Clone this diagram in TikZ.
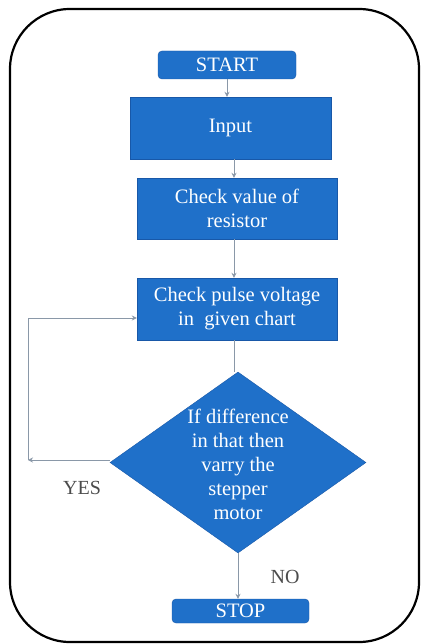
\documentclass[tikz,border=0pt]{standalone}
\usepackage{fontspec}
\setmainfont{Liberation Serif}
\usepackage{tikz}
\usetikzlibrary{calc}
\usetikzlibrary{positioning}
\usetikzlibrary{arrows.meta}
\usetikzlibrary{shapes.geometric}
\usepackage{xcolor}
\definecolor{boxblue}{RGB}{31,112,201}
\definecolor{edgeblue}{RGB}{24,88,168}
\definecolor{linegray}{RGB}{138,152,168}

\begin{document}
\begin{tikzpicture}[x=1pt, y=-1pt,
    stepbox/.style={draw=edgeblue, fill=boxblue, text=white, align=center, inner sep=0pt,
      font=\fontsize{20.5}{24}\selectfont},
    decision/.style={diamond, draw=edgeblue, fill=boxblue, inner sep=0pt, aspect=1.41},
    conn/.style={draw=linegray, line width=0.9pt, -{Stealth[length=5pt,width=5pt]}},
    lbl/.style={text=black!70, font=\fontsize{20}{24}\selectfont}]
  \useasboundingbox (0,0) rectangle (420,644);
  \draw[line width=2.2pt, rounded corners=60pt] (10,9) rectangle (419,642);
  \node[stepbox, rounded corners=4pt, minimum width=138pt, minimum height=28pt] (start) at (227,65) {START};
  \node[stepbox, minimum width=201pt, minimum height=62pt] (input) at (230.5,128) {Input};
  \node[stepbox, minimum width=200pt, minimum height=61pt] (resist) at (237,208.5) {Check value of\\resistor};
  \node[stepbox, minimum width=200pt, minimum height=62pt] (pulse) at (237,309) {Check pulse voltage\\in~ given chart};
  \node[decision, minimum width=256pt, minimum height=181pt] (diff) at (238,462.5) {};
  \node[stepbox, draw=none, fill=none] (difftext) at (238,464) {If difference\\in that then\\varry the\\stepper\\motor};
  \node[stepbox, rounded corners=4pt, minimum width=137pt, minimum height=24pt] (stop) at (240.5,611) {STOP};
  \coordinate (back) at (28,460);
  % flow
  \draw[conn] (start.south) -- (start.south |- input.north);
  \draw[conn] ([xshift=-3pt]resist.north |- input.south) -- ([xshift=-3pt]resist.north);
  \draw[conn] ([xshift=-3pt]pulse.north |- resist.south) -- ([xshift=-3pt]pulse.north);
  \draw[draw=linegray, line width=0.9pt] ([xshift=-3pt]pulse.south) -- ([xshift=-3pt]pulse.south |- diff.north);
  \draw[conn] (diff.south) -- (diff.south |- stop.north);
  \draw[conn] (diff.west |- back) -- (back);
  \draw[conn] (back) |- ([yshift=-9pt]pulse.west);
  \node[lbl] (yes) at (82,488) {YES};
  \node[lbl] (no) at (285,577) {NO};
\end{tikzpicture}
\end{document}
